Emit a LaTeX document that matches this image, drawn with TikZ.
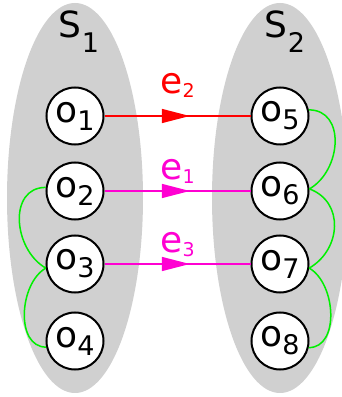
\documentclass[tikz,border=0pt]{standalone}
\usepackage{fontspec}
\setmainfont{DejaVu Sans}
\usepackage{xcolor}
\usetikzlibrary{arrows.meta,decorations.markings}

\definecolor{setgray}{RGB}{208,208,208}
\definecolor{pinkmag}{RGB}{255,0,210}
\definecolor{samegreen}{RGB}{0,240,0}

% lowered, smaller subscript: size, drop, text
\newcommand{\lowsub}[3]{\raisebox{-#2pt}{\fontsize{#1}{#1}\selectfont #3}}

\tikzset{
  obj/.style={circle, draw, line width=2pt, fill=white, minimum size=57pt, inner sep=0pt, font=\fontsize{36}{36}\selectfont},
  flow/.style={line width=1.6pt, postaction={decorate},
    decoration={markings, mark=at position 0.584 with {\arrow{Triangle[length=28pt,width=14pt]}}}},
  elabel/.style={anchor=base, inner sep=0pt, font=\fontsize{36}{36}\selectfont},
  setlabel/.style={anchor=base, inner sep=0pt, font=\fontsize{36}{36}\selectfont},
  same/.style={samegreen, line width=1.5pt},
}

\begin{document}
\begin{tikzpicture}[x=1pt, y=1pt]
  \useasboundingbox (0,0) rectangle (341,397);

  % the two sets
  \fill[setgray] (75,199) ellipse [x radius=68pt, y radius=195pt];
  \fill[setgray] (280,199) ellipse [x radius=68pt, y radius=195pt];
  \node[setlabel] (s1) at (79,359) {S\lowsub{27}{15}{1}};
  \node[setlabel] (s2) at (285,359) {S\lowsub{27}{15}{2}};

  % objects of S1
  \node[obj] (o1) at (75,281) {o\lowsub{27}{8}{1}};
  \node[obj] (o2) at (75,206) {o\lowsub{27}{8}{2}};
  \node[obj] (o3) at (75,133) {o\lowsub{27}{8}{3}};
  \node[obj] (o4) at (75,56)  {o\lowsub{27}{8}{4}};

  % objects of S2
  \node[obj] (o5) at (280,281) {o\lowsub{27}{8}{5}};
  \node[obj] (o6) at (280,206) {o\lowsub{27}{8}{6}};
  \node[obj] (o7) at (280,133) {o\lowsub{27}{8}{7}};
  \node[obj] (o8) at (280,56)  {o\lowsub{27}{8}{8}};

  % links between the sets
  \draw[flow, red] (o1) -- node[elabel, red, yshift=22pt] {e\lowsub{19}{4}{2}} (o5);
  \draw[flow, pinkmag] (o2) -- node[elabel, pinkmag, yshift=11pt] {e\lowsub{19}{4}{1}} (o6);
  \draw[flow, pinkmag] (o3) -- node[elabel, pinkmag, yshift=11pt] {e\lowsub{19}{4}{3}} (o7);

  % links inside the sets
  \draw[same] (o2.173) to[out=180, in=150, looseness=1.2] (o3.188);
  \draw[same] (o3.188) to[out=210, in=180, looseness=1] (o4.192);
  \draw[same] (o5.12) to[out=0, in=30, looseness=1.2] (o6.4);
  \draw[same] (o6.4) to[out=340, in=30, looseness=1.2] (o7.352);
  \draw[same] (o7.352) to[out=330, in=0, looseness=1] (o8.347);
\end{tikzpicture}
\end{document}
